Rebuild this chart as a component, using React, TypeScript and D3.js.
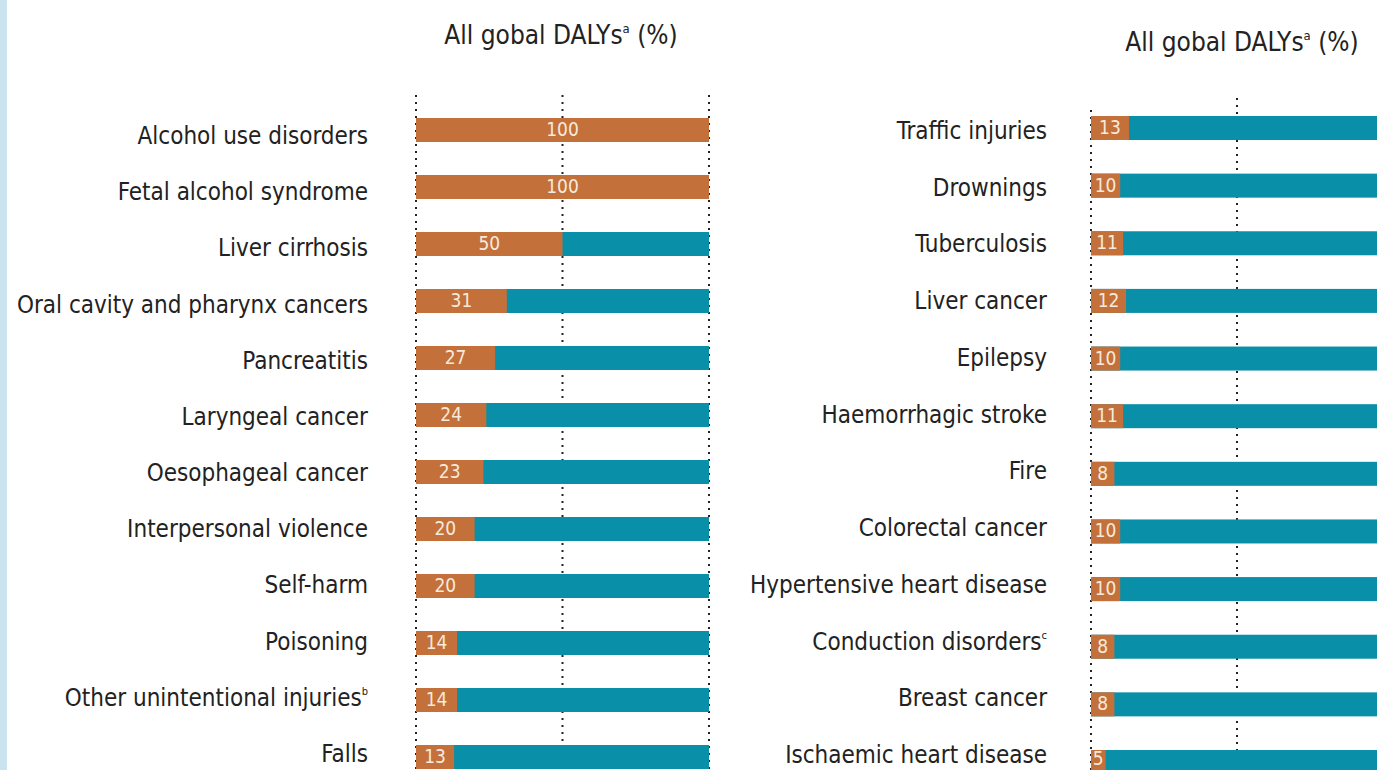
import React from "react";
import * as d3 from "d3";

const leftCategories = [
  "Alcohol use disorders",
  "Fetal alcohol syndrome",
  "Liver cirrhosis",
  "Oral cavity and pharynx cancers",
  "Pancreatitis",
  "Laryngeal cancer",
  "Oesophageal cancer",
  "Interpersonal violence",
  "Self-harm",
  "Poisoning",
  "Other unintentional injuries",
  "Falls",
];
const leftSup = ["", "", "", "", "", "", "", "", "", "", "b", ""];
const leftValues = [100, 100, 50, 31, 27, 24, 23, 20, 20, 14, 14, 13];

const rightCategories = [
  "Traffic injuries",
  "Drownings",
  "Tuberculosis",
  "Liver cancer",
  "Epilepsy",
  "Haemorrhagic stroke",
  "Fire",
  "Colorectal cancer",
  "Hypertensive heart disease",
  "Conduction disorders",
  "Breast cancer",
  "Ischaemic heart disease",
];
const rightSup = ["", "", "", "", "", "", "", "", "", "c", "", ""];
const rightValues = [13, 10, 11, 12, 10, 11, 8, 10, 10, 8, 8, 5];

const gridTicks = [0, 50, 100];
const headerText = "All gobal DALYs";
const headerSup = "a";

const ORANGE = "#c4703a";
const TEAL = "#0a8fa8";
const FONT = "'Liberation Sans Narrow', 'DejaVu Sans Condensed', 'Roboto Condensed', sans-serif";
const H = 770;

type PanelProps = {
  cats: string[];
  sups: string[];
  vals: number[];
  x0: number;
  x1: number;
  y0: number;
  y1: number;
  ly0: number;
  ly1: number;
  labelX: number;
  gridTops: number[];
  headerX: number;
  headerY: number;
};

function Panel({ cats, sups, vals, x0, x1, y0, y1, ly0, ly1, labelX, gridTops, headerX, headerY }: PanelProps) {
  const x = d3.scaleLinear().domain([0, 100]).range([x0, x1]);
  const y = d3.scalePoint<string>().domain(cats).range([y0, y1]);
  const ly = d3.scalePoint<string>().domain(cats).range([ly0, ly1]);
  const bh = 24;
  return (
    <g>
      <text x={headerX} y={headerY} fontFamily={FONT} fontSize={26} fill="#222" textAnchor="middle">
        {headerText}
        <tspan fontSize={13} dy={-11}>{headerSup}</tspan>
        <tspan dy={11}> (%)</tspan>
      </text>
      {gridTicks.map((t, i) => (
        <line
          key={t}
          x1={x(t)}
          x2={x(t)}
          y1={gridTops[i]}
          y2={H + 10}
          stroke="#222"
          strokeWidth={2}
          strokeDasharray="2,5"
        />
      ))}
      {cats.map((c, i) => {
        const yc = y(c) as number;
        const lc = ly(c) as number;
        const v = vals[i];
        return (
          <g key={c}>
            <rect x={x(0)} y={yc - bh / 2} width={x(100) - x(0)} height={bh} fill={TEAL} />
            <rect x={x(0)} y={yc - bh / 2} width={x(v) - x(0)} height={bh} fill={ORANGE} />
            <text
              x={(x(0) + x(v)) / 2}
              y={Math.min(yc + 6, H - 5)}
              fontFamily={FONT}
              fontSize={19}
              fill="#f6eadc"
              textAnchor="middle"
            >
              {v}
            </text>
            <text x={labelX} y={lc + 9} fontFamily={FONT} fontSize={24} fill="#222" textAnchor="end">
              {c}
              {sups[i] ? (
                <tspan fontSize={11} dy={-11}>
                  {sups[i]}
                </tspan>
              ) : null}
            </text>
          </g>
        );
      })}
    </g>
  );
}

export default function App() {
  return (
    <svg
      width={1377}
      height={H}
      style={{ position: "absolute", left: 0, top: 0, background: "#fff" }}
    >
      <rect x={0} y={0} width={1377} height={H} fill="#fff" />
      <rect x={0} y={0} width={7} height={H} fill="#c9e3ef" />
      <Panel
        cats={leftCategories}
        sups={leftSup}
        vals={leftValues}
        x0={416}
        x1={709}
        y0={130}
        y1={757}
        ly0={135}
        ly1={753}
        labelX={368}
        gridTops={[95, 95, 95]}
        headerX={561}
        headerY={44}
      />
      <Panel
        cats={rightCategories}
        sups={rightSup}
        vals={rightValues}
        x0={1091}
        x1={1383}
        y0={128}
        y1={762}
        ly0={130}
        ly1={754}
        labelX={1047}
        gridTops={[110, 98, 98]}
        headerX={1242}
        headerY={51}
      />
    </svg>
  );
}
